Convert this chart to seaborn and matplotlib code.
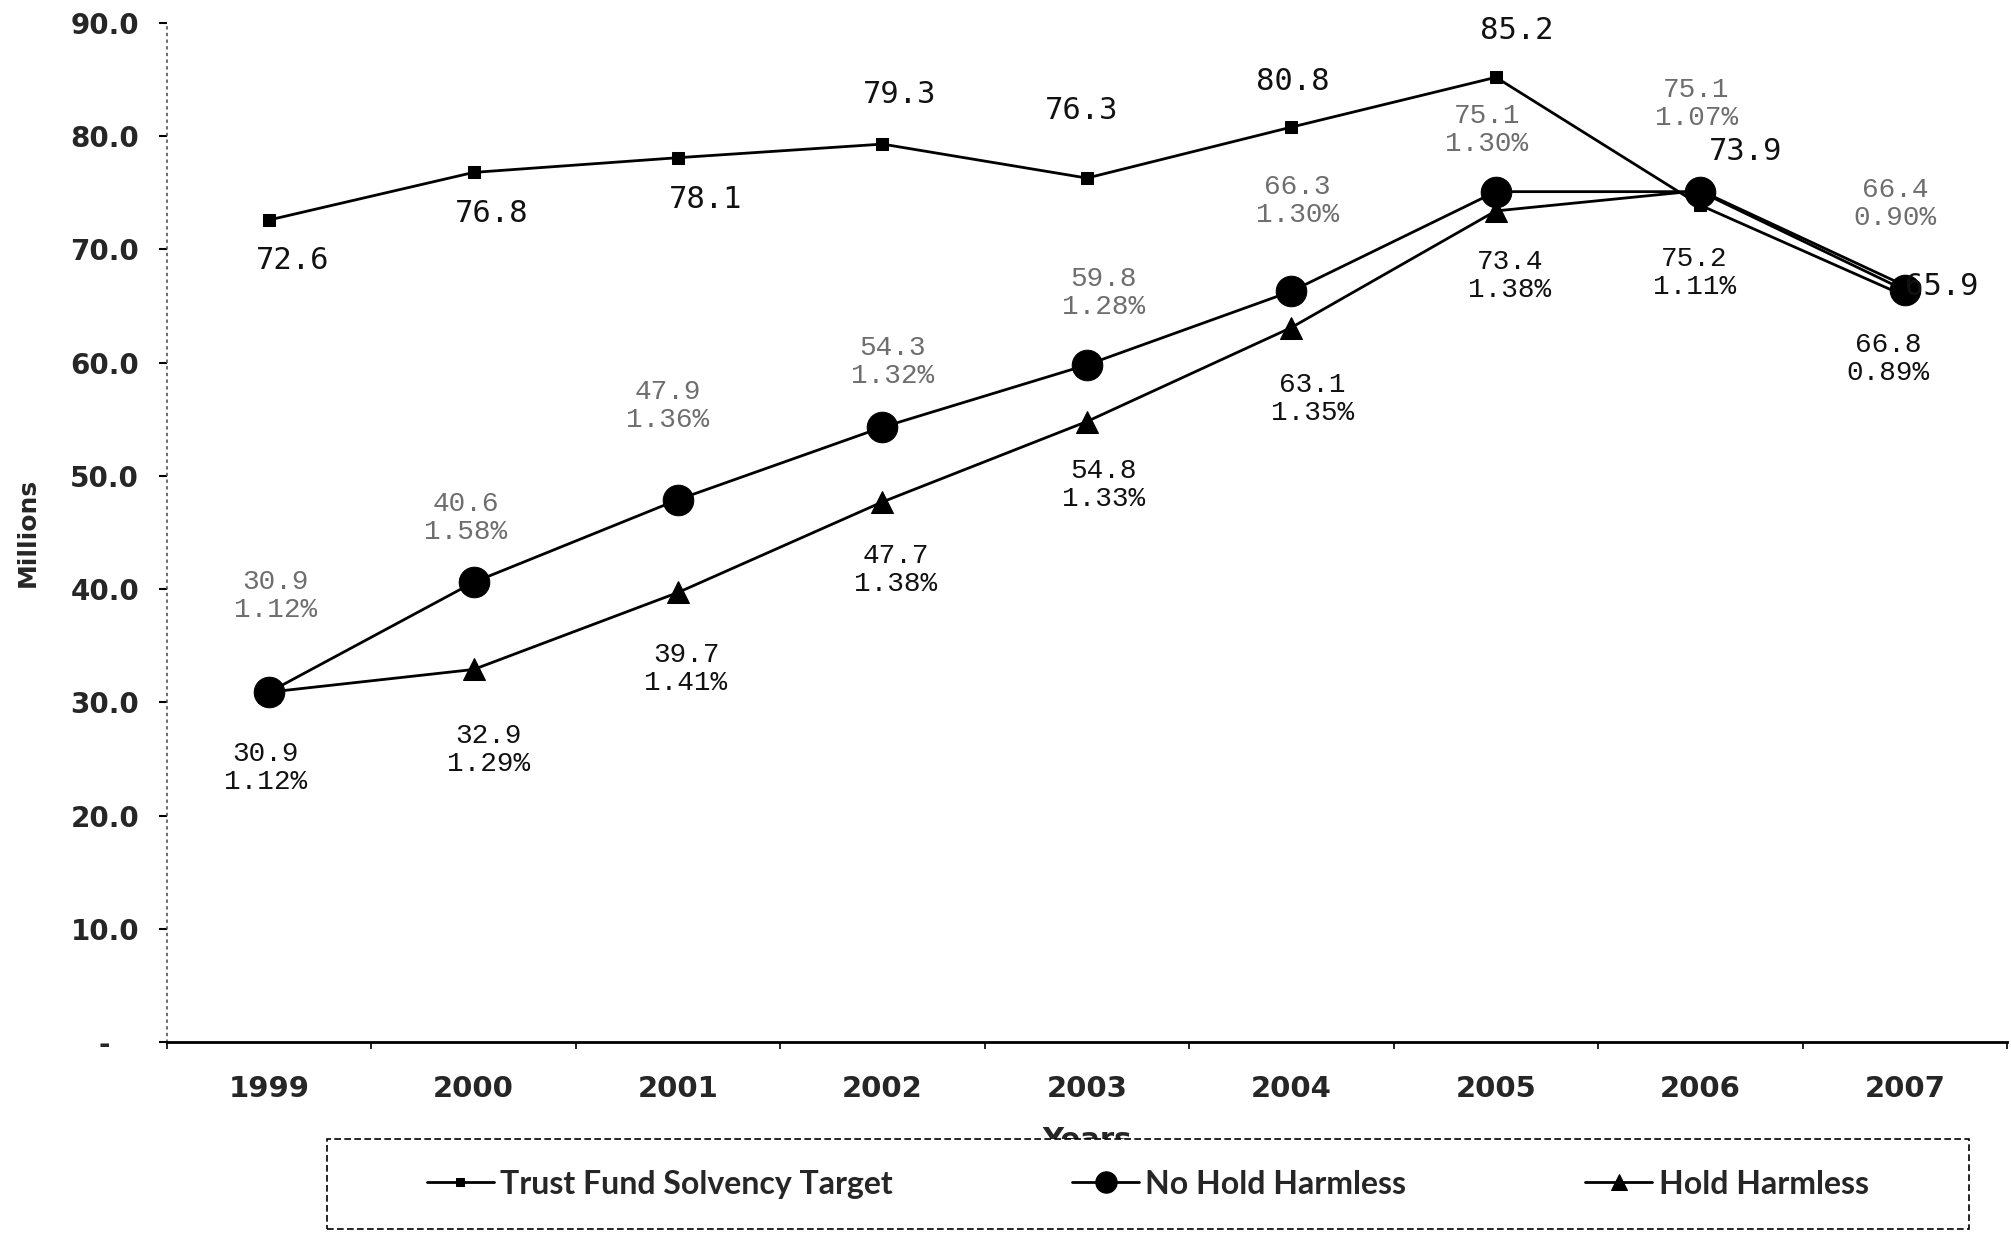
import numpy as np
import pandas as pd
import matplotlib
matplotlib.use("Agg")
import matplotlib.pyplot as plt
from matplotlib.patches import Rectangle
import seaborn as sns

# ---------------- data ----------------
years = ["1999", "2000", "2001", "2002", "2003", "2004", "2005", "2006", "2007"]
trust_fund = [72.6, 76.8, 78.1, 79.3, 76.3, 80.8, 85.2, 73.9, 65.9]
no_hold = [30.9, 40.6, 47.9, 54.3, 59.8, 66.3, 75.1, 75.1, 66.4]
no_hold_pct = ["1.12%", "1.58%", "1.36%", "1.32%", "1.28%", "1.30%", "1.30%", "1.07%", "0.90%"]
hold = [30.9, 32.9, 39.7, 47.7, 54.8, 63.1, 73.4, 75.2, 66.8]
hold_pct = ["1.12%", "1.29%", "1.41%", "1.38%", "1.33%", "1.35%", "1.38%", "1.11%", "0.89%"]
y_ticks = [0, 10, 20, 30, 40, 50, 60, 70, 80, 90]
y_tick_labels = ["-   ", "10.0", "20.0", "30.0", "40.0", "50.0", "60.0", "70.0", "80.0", "90.0"]
series_names = ["Trust Fund Solvency Target", "No Hold Harmless", "Hold Harmless"]

# label offsets (pixels, y up)
trust_off = [(23, -41), (18, -41), (28, -42), (17, 50), (-5, 68), (1, 46), (21, 47), (45, 54), (37, 9)]
nohold_off = [(6, 96), (-8, 64), (-10, 94), (10, 65), (17, 72), (6, 90), (-9, 62), (-4, 88), (-10, 86)]
hold_off = [(-4, -76), (15, -81), (8, -77), (13, -68), (17, -63), (21, -71), (14, -65), (-6, -82), (-17, -73)]

sns.set_theme(style="white")
plt.rcParams["font.family"] = ["DejaVu Sans"]

fig = plt.figure(figsize=(20.11, 12.34), dpi=100)
ax = fig.add_axes([0.0830, 0.1556, 0.9150, 0.8258])

xpos = np.arange(len(years))
df = pd.DataFrame({"x": xpos, "trust": trust_fund, "nohold": no_hold, "hold": hold})

sns.lineplot(data=df, x="x", y="hold", ax=ax, color="black", lw=2.0,
             marker="^", markersize=16, markeredgecolor="black",
             label=series_names[2], zorder=3)
sns.lineplot(data=df, x="x", y="nohold", ax=ax, color="black", lw=2.0,
             marker="o", markersize=22, markeredgecolor="black",
             label=series_names[1], zorder=4)
sns.lineplot(data=df, x="x", y="trust", ax=ax, color="black", lw=2.0,
             marker="s", markersize=8, markeredgecolor="black",
             label=series_names[0], zorder=5)

mono = "Liberation Mono"
for i in range(len(years)):
    ax.annotate(f"{trust_fund[i]:.1f}", (xpos[i], trust_fund[i]), xytext=trust_off[i],
                textcoords="offset pixels", ha="center", va="center",
                fontsize=22, family="DejaVu Sans Mono", color="#111111", zorder=6)
    ax.annotate(f"{no_hold[i]:.1f}\n{no_hold_pct[i]}", (xpos[i], no_hold[i]), xytext=nohold_off[i],
                textcoords="offset pixels", ha="center", va="center",
                fontsize=20, family=mono, color="#6e6e6e", linespacing=1.1, zorder=6)
    ax.annotate(f"{hold[i]:.1f}\n{hold_pct[i]}", (xpos[i], hold[i]), xytext=hold_off[i],
                textcoords="offset pixels", ha="center", va="center",
                fontsize=20, family=mono, color="#111111", linespacing=1.1, zorder=6)

ax.set_xlim(-0.5, len(years) - 0.5)
ax.set_ylim(0, 90)
ax.set_xticks(xpos)
ax.set_xticklabels(years, fontsize=21, fontweight="bold")
ax.set_xticks(np.arange(-0.5, len(years)), minor=True)
ax.tick_params(axis="x", which="major", length=0, pad=24)
ax.tick_params(axis="x", which="minor", length=5, width=1.2, color="black", direction="out", bottom=True)
ax.set_yticks(y_ticks)
ax.set_yticklabels(y_tick_labels, fontsize=20, fontweight="bold")
ax.tick_params(axis="y", which="major", length=6, width=1.5, color="black", direction="out", left=True, pad=14)

for s in ["top", "right"]:
    ax.spines[s].set_visible(False)
ax.spines["left"].set_linestyle((0, (1, 3)))
ax.spines["left"].set_color("#555555")
ax.spines["left"].set_linewidth(1.2)
ax.spines["bottom"].set_color("black")
ax.spines["bottom"].set_linewidth(2.0)

ax.set_ylabel("Millions", fontsize=18, fontweight="bold")
ax.yaxis.set_label_coords(-0.069, 0.5)
ax.set_xlabel("Years", fontsize=21, fontweight="bold")
ax.xaxis.set_label_coords(0.5, -0.082)

# legend box (dashed) drawn over the x label
box = Rectangle((255 * 1.2825 / 2011, 0.004), (1535 - 255) * 1.2825 / 2011, 0.073,
                transform=fig.transFigure, facecolor="white", edgecolor="black",
                linewidth=1.2, linestyle=(0, (4, 2)), zorder=2)
fig.patches.append(box)

handles, labels = ax.get_legend_handles_labels()
order = [labels.index(n) for n in series_names]
ax.get_legend().remove()
leg = fig.legend([handles[k] for k in order], [labels[k] for k in order],
                 loc="center", bbox_to_anchor=(0.5708, 0.0405),
                 ncol=3, frameon=False,
                 prop={"family": "Lato", "weight": "bold", "size": 23},
                 handlelength=2.1, handletextpad=0.2, markerscale=0.7,
                 columnspacing=5.6, borderaxespad=0, borderpad=0)
leg.set_zorder(6)

fig.savefig("out.png", dpi=100, facecolor="white")
